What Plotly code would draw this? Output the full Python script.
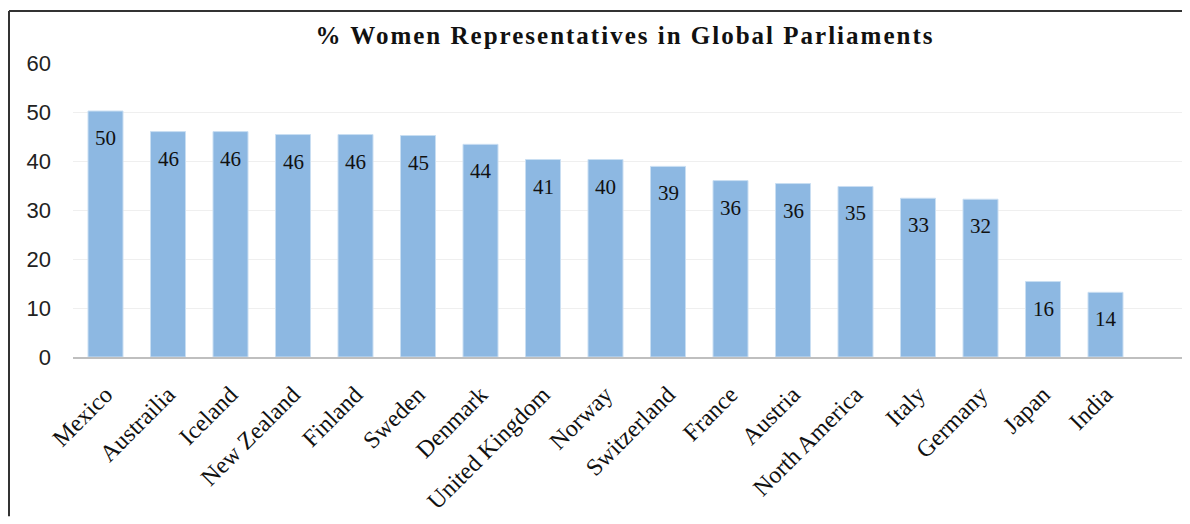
import plotly.graph_objects as go

countries = ["Mexico", "Austrailia", "Iceland", "New Zealand", "Finland", "Sweden",
             "Denmark", "United Kingdom", "Norway", "Switzerland", "France", "Austria",
             "North America", "Italy", "Germany", "Japan", "India"]
values = [50.2, 46.0, 46.0, 45.4, 45.4, 45.2, 43.4, 40.3, 40.3, 38.9, 36.0, 35.4,
          34.8, 32.4, 32.2, 15.4, 13.2]
labels = ["50", "46", "46", "46", "46", "45", "44", "41", "40", "39", "36", "36",
          "35", "33", "32", "16", "14"]
y_ticks = [0, 10, 20, 30, 40, 50, 60]
title_text = "% Women Representatives in Global Parliaments"

SERIF = "Liberation Serif, Times New Roman, serif"
SANS = "Liberation Sans, Arial, sans-serif"

fig = go.Figure()
fig.add_trace(go.Bar(
    x=list(range(len(countries))), y=values,
    marker=dict(color="#8DB8E2", line=dict(color="#C9DEF2", width=1)),
    width=0.56, hoverinfo="skip",
))

for i, (v, lab) in enumerate(zip(values, labels)):
    fig.add_annotation(x=i, y=v, text=lab, showarrow=False, yanchor="middle",
                       yshift=-27, font=dict(family=SERIF, size=21, color="#111"))

# page has an 8px body margin; figure's right edge is pushed past the window
W, H = 1190, 516
L, R, T, B = 65, 10, 55, 162
pw, ph = W - L - R, H - T - B

fig.update_layout(
    width=W, height=H,
    margin=dict(l=L, r=R, t=T, b=B),
    paper_bgcolor="white", plot_bgcolor="white",
    showlegend=False,
    title=dict(text='<b><span style="letter-spacing:2px">' + title_text + '</span></b>',
               x=617 / W, xanchor="center", xref="container",
               y=1 - 27 / H, yanchor="middle",
               font=dict(family=SERIF, size=25, color="#111")),
    xaxis=dict(tickmode="array", tickvals=list(range(len(countries))), ticktext=countries,
               tickangle=-45, range=[-0.52, 17.32], showgrid=False,
               showline=True, linecolor="#BFBFBF", linewidth=2, ticks="",
               ticklabelstandoff=12,
               tickfont=dict(family=SERIF, size=24, color="#111")),
    yaxis=dict(range=[0, 60], tickvals=y_ticks, showgrid=True, gridcolor="#EFEFEF",
               gridwidth=1, zeroline=False, showline=False, ticks="",
               ticklabelstandoff=21,
               tickfont=dict(family=SANS, size=22, color="#222")),
    shapes=[
        dict(type="line", xref="paper", yref="paper",
             x0=(1 - L) / pw, x1=(W - L) / pw,
             y0=(H - B - 2) / ph, y1=(H - B - 2) / ph,
             line=dict(color="#333", width=2), layer="below"),
        dict(type="line", xref="paper", yref="paper",
             x0=(1 - L) / pw, x1=(1 - L) / pw,
             y0=-B / ph, y1=(H - B - 2) / ph,
             line=dict(color="#333", width=2), layer="below"),
    ],
)

fig.write_html("out.html")
